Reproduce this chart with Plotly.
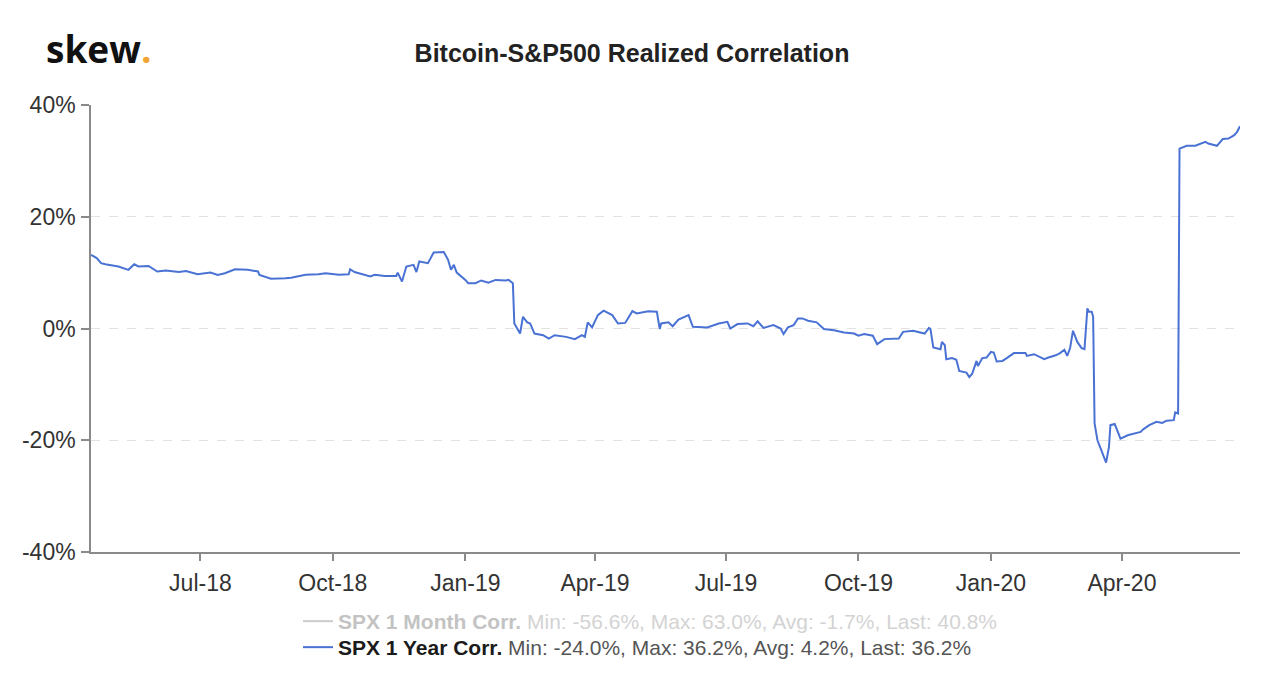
import plotly.graph_objects as go

# ---- data: SPX 1 Year realized correlation with Bitcoin (%) ----
dates = [
    "2018-04-16", "2018-04-20", "2018-04-23", "2018-04-26", "2018-05-05", "2018-05-12",
    "2018-05-16", "2018-05-19", "2018-05-26", "2018-06-01", "2018-06-07", "2018-06-16",
    "2018-06-21", "2018-06-29", "2018-07-08", "2018-07-13", "2018-07-18", "2018-07-25",
    "2018-08-03", "2018-08-10", "2018-08-11", "2018-08-19", "2018-08-29", "2018-09-02",
    "2018-09-12", "2018-09-21", "2018-09-26", "2018-10-05", "2018-10-12", "2018-10-13",
    "2018-10-16", "2018-10-21", "2018-10-27", "2018-10-30", "2018-11-06", "2018-11-14",
    "2018-11-15", "2018-11-18", "2018-11-21", "2018-11-26", "2018-11-28", "2018-11-30",
    "2018-12-06", "2018-12-10", "2018-12-17", "2018-12-20", "2018-12-22", "2018-12-24",
    "2018-12-26", "2019-01-01", "2019-01-03", "2019-01-08", "2019-01-12", "2019-01-17",
    "2019-01-22", "2019-01-29", "2019-01-31", "2019-02-03", "2019-02-04", "2019-02-08",
    "2019-02-10", "2019-02-13", "2019-02-15", "2019-02-18", "2019-02-24", "2019-02-28",
    "2019-03-04", "2019-03-12", "2019-03-18", "2019-03-23", "2019-03-25", "2019-03-27",
    "2019-03-30", "2019-04-03", "2019-04-07", "2019-04-13", "2019-04-17", "2019-04-22",
    "2019-04-27", "2019-04-30", "2019-05-08", "2019-05-14", "2019-05-16", "2019-05-17",
    "2019-05-22", "2019-05-25", "2019-05-29", "2019-06-05", "2019-06-08", "2019-06-18",
    "2019-06-26", "2019-07-02", "2019-07-04", "2019-07-09", "2019-07-16", "2019-07-20",
    "2019-07-23", "2019-07-27", "2019-08-03", "2019-08-08", "2019-08-10", "2019-08-13",
    "2019-08-17", "2019-08-20", "2019-08-23", "2019-08-27", "2019-09-02", "2019-09-07",
    "2019-09-14", "2019-09-21", "2019-09-28", "2019-10-01", "2019-10-05", "2019-10-11",
    "2019-10-14", "2019-10-19", "2019-10-29", "2019-11-01", "2019-11-08", "2019-11-16",
    "2019-11-19", "2019-11-20", "2019-11-22", "2019-11-27", "2019-11-28", "2019-11-30",
    "2019-12-01", "2019-12-05", "2019-12-08", "2019-12-10", "2019-12-15", "2019-12-17",
    "2019-12-19", "2019-12-22", "2019-12-23", "2019-12-26", "2019-12-29", "2020-01-01",
    "2020-01-03", "2020-01-05", "2020-01-09", "2020-01-12", "2020-01-17", "2020-01-25",
    "2020-01-26", "2020-01-31", "2020-02-07", "2020-02-10", "2020-02-15", "2020-02-18",
    "2020-02-21", "2020-02-23", "2020-02-25", "2020-02-27", "2020-03-01", "2020-03-04",
    "2020-03-06", "2020-03-08", "2020-03-09", "2020-03-11", "2020-03-12", "2020-03-13",
    "2020-03-15", "2020-03-18", "2020-03-21", "2020-03-23", "2020-03-24", "2020-03-27",
    "2020-03-31", "2020-04-05", "2020-04-09", "2020-04-14", "2020-04-16", "2020-04-20",
    "2020-04-25", "2020-04-29", "2020-05-02", "2020-05-07", "2020-05-08", "2020-05-10",
    "2020-05-11", "2020-05-16", "2020-05-22", "2020-05-25", "2020-05-29", "2020-05-31",
    "2020-06-06", "2020-06-10", "2020-06-14", "2020-06-18", "2020-06-20", "2020-06-22",
]
corr_1y = [
    13.2, 12.6, 11.7, 11.5, 11.1, 10.5,
    11.5, 11.1, 11.2, 10.2, 10.4, 10.1,
    10.3, 9.7, 10.0, 9.6, 9.9, 10.6,
    10.5, 10.2, 9.6, 8.9, 9.0, 9.1,
    9.6, 9.7, 9.9, 9.6, 9.7, 10.6,
    10.1, 9.7, 9.3, 9.6, 9.4, 9.4,
    10.0, 8.4, 11.1, 11.4, 10.1, 12.0,
    11.7, 13.6, 13.7, 12.3, 10.5, 11.4,
    10.0, 8.7, 8.1, 8.1, 8.6, 8.2,
    8.7, 8.6, 8.7, 8.1, 0.9, -0.9,
    2.1, 1.1, 0.9, -0.9, -1.2, -1.8,
    -1.2, -1.5, -1.9, -1.2, -1.5, 1.1,
    0.2, 2.4, 3.2, 2.4, 0.9, 1.0,
    3.1, 2.7, 3.1, 3.0, -0.1, 0.9,
    1.1, 0.4, 1.6, 2.4, 0.3, 0.2,
    0.9, 1.2, 0.0, 0.8, 0.9, 0.4,
    1.3, 0.1, 0.6, 0.0, -1.0, 0.2,
    0.6, 1.8, 1.8, 1.4, 1.1, -0.1,
    -0.3, -0.7, -0.9, -1.3, -1.0, -1.3,
    -2.8, -1.9, -1.8, -0.6, -0.4, -0.9,
    0.1, -0.1, -3.4, -3.7, -2.4, -3.0,
    -5.5, -5.3, -5.6, -7.6, -7.9, -8.7,
    -8.1, -5.8, -6.7, -5.3, -5.2, -4.2,
    -4.3, -5.9, -5.8, -5.3, -4.4, -4.4,
    -4.9, -4.6, -5.5, -5.2, -4.8, -4.4,
    -3.8, -4.9, -3.5, -0.4, -2.4, -3.5,
    -3.7, 3.6, 3.0, 3.0, 2.1, -17.0,
    -20.0, -22.0, -24.0, -21.2, -17.3, -17.1,
    -19.7, -19.1, -18.8, -18.5, -18.0, -17.3,
    -16.7, -16.9, -16.5, -16.4, -15.0, -15.2,
    32.2, 32.7, 32.7, 33.0, 33.4, 33.1,
    32.7, 33.9, 34.0, 34.6, 35.2, 36.2,
]

series_names = ["SPX 1 Month Corr.", "SPX 1 Year Corr."]
stat_min = ["-56.6%", "-24.0%"]
stat_max = ["63.0%", "36.2%"]
stat_avg = ["-1.7%", "4.2%"]
stat_last = ["40.8%", "36.2%"]

x_tick_vals = ["2018-07-01", "2018-10-01", "2019-01-01", "2019-04-01",
               "2019-07-01", "2019-10-01", "2020-01-01", "2020-04-01"]
x_tick_labels = ["Jul-18", "Oct-18", "Jan-19", "Apr-19", "Jul-19", "Oct-19", "Jan-20", "Apr-20"]
y_tick_vals = [-40, -20, 0, 20, 40]
y_tick_labels = ["-40%", "-20%", "0%", "20%", "40%"]

FONT = "Liberation Sans, Arial, Helvetica, sans-serif"
LINE_BLUE = "#4a72d4"


def legend_label(i, bold_color, rest_color):
    return (f"<span style='color:{bold_color}'><b>{series_names[i]}</b></span>"
            f"<span style='color:{rest_color}'> Min: {stat_min[i]}, Max: {stat_max[i]}, "
            f"Avg: {stat_avg[i]}, Last: {stat_last[i]}</span>")


fig = go.Figure()
fig.add_trace(go.Scatter(
    x=[None], y=[None], mode="lines", visible="legendonly",
    name=legend_label(0, "#888888", "#a8a8a8"),
    line=dict(color="#999999", width=2),
    legend="legend",
))
fig.add_trace(go.Scatter(
    x=dates, y=corr_1y, mode="lines",
    name=legend_label(1, "#1a1a1a", "#555555"),
    line=dict(color=LINE_BLUE, width=2),
    legend="legend2",
))

legend_common = dict(
    orientation="v", xanchor="left", yanchor="top",
    x=(298 - 91) / 1149, xref="paper",
    font=dict(family=FONT, size=21, color="#555555"),
    bgcolor="rgba(0,0,0,0)",
    itemclick=False, itemdoubleclick=False,
)

fig.update_layout(
    width=1280, height=673,
    paper_bgcolor="white", plot_bgcolor="white",
    margin=dict(l=91, r=40, t=105, b=121),
    font=dict(family=FONT, color="#333333", size=22),
    title=dict(
        text="<b>Bitcoin-S&P500 Realized Correlation</b>",
        x=632 / 1280, xref="container", xanchor="center",
        y=1 - 53 / 673, yref="container", yanchor="middle",
        font=dict(family=FONT, size=25, color="#222222"),
    ),
    showlegend=True,
    legend=dict(legend_common, yref="paper", y=-(601 - 552) / 447),
    legend2=dict(legend_common, yref="container", y=1 - 627 / 673),
    xaxis=dict(
        type="date",
        range=[dates[0], dates[-1]],
        tickvals=x_tick_vals, ticktext=x_tick_labels,
        showgrid=False, zeroline=False,
        showline=True, linecolor="#8a8a8a", linewidth=1.5,
        ticks="outside", ticklen=7, tickcolor="#8a8a8a", tickwidth=1.5,
        tickfont=dict(family=FONT, size=23, color="#333333"),
        ticklabelstandoff=3,
    ),
    yaxis=dict(
        range=[-40, 40],
        tickvals=y_tick_vals, ticktext=y_tick_labels,
        showgrid=True, gridcolor="#e2e2e2", griddash="dash", gridwidth=1,
        zeroline=False,
        showline=True, linecolor="#8a8a8a", linewidth=1.5,
        ticks="outside", ticklen=8, tickcolor="#8a8a8a", tickwidth=1.5,
        tickfont=dict(family=FONT, size=23, color="#333333"),
        ticklabelstandoff=1,
    ),
)

# logo
fig.add_annotation(
    xref="paper", yref="paper",
    x=(44 - 91) / 1149, y=1 + (105 - 49) / 447,
    xanchor="left", yanchor="middle", showarrow=False,
    text="<b>skew</b><b><span style='color:#f0a432'>.</span></b>",
    font=dict(family="Open Sans, Noto Sans, sans-serif", size=37, color="#111111"),
)

fig.write_html(
    "out.html",
    config={"displayModeBar": False},
    post_script="document.body.style.margin='0px';document.body.style.overflow='hidden';",
)
